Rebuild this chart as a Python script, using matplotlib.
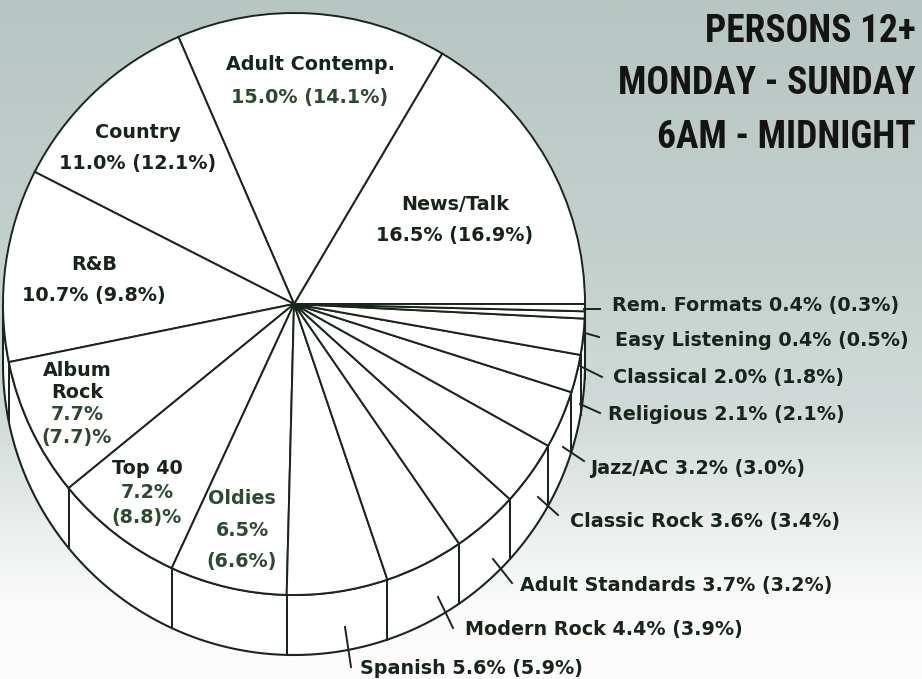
import numpy as np
import matplotlib
matplotlib.use("Agg")
import matplotlib.pyplot as plt
from matplotlib.colors import LinearSegmentedColormap

# ---------------- data ----------------
formats = ["News/Talk", "Adult Contemp.", "Country", "R&B", "Album Rock", "Top 40",
           "Oldies", "Spanish", "Modern Rock", "Adult Standards", "Classic Rock",
           "Jazz/AC", "Religious", "Classical", "Easy Listening", "Rem. Formats"]
share_now = [16.5, 15.0, 11.0, 10.7, 7.7, 7.2, 6.5, 5.6, 4.4, 3.7, 3.6, 3.2, 2.1, 2.0, 0.4, 0.4]
share_prev = [16.9, 14.1, 12.1, 9.8, 7.7, 8.8, 6.6, 5.9, 3.9, 3.2, 3.4, 3.0, 2.1, 1.8, 0.5, 0.3]
title_lines = ["PERSONS 12+", "MONDAY - SUNDAY", "6AM - MIDNIGHT"]

# ---------------- layout (pixel coordinates, y measured from top) ----------------
W, H = 922, 679
CX, CY_PX, R, DEPTH = 294, 304, 291, 60
LINE = "#1a261c"
TXT = "#172419"
GREEN = "#2d4a31"
FS = 13.8

def Y(ypx):
    return H - ypx

# inside labels: name -> (center x, [y of each line], lines spec)
inside = {
    "News/Talk":      (455, [204, 236], "one"),
    "Adult Contemp.": (310, [65, 97], "one"),
    "Country":        (138, [133, 164], "one"),
    "R&B":            (94, [264, 296], "one"),
    "Album Rock":     (77, [371, 393, 415, 438], "split"),
    "Top 40":         (147, [468, 493, 517], "stack"),
    "Oldies":         (242, [498, 530, 562], "stack2"),
}
# outside labels: name -> (left x, center y, leader segment)
outside = {
    "Rem. Formats":    (612, 305, ((584, 309), (600, 309))),
    "Easy Listening":  (615, 340, ((585, 333), (599, 337))),
    "Classical":       (613, 377, ((580, 366), (602, 377))),
    "Religious":       (608, 415, ((580, 404), (600, 413))),
    "Jazz/AC":         (590, 468, ((563, 447), (584, 461))),
    "Classic Rock":    (570, 521, ((538, 497), (558, 515))),
    "Adult Standards": (520, 585, ((493, 559), (512, 583))),
    "Modern Rock":     (465, 629, ((438, 597), (453, 628))),
    "Spanish":         (360, 669, ((345, 627), (351, 667))),
}

fig = plt.figure(figsize=(9.22, 6.79), dpi=100)
ax = fig.add_axes([0, 0, 1, 1])

# background gradient
cmap = LinearSegmentedColormap.from_list(
    "bg", [(0.0, "#b8c6c3"), (0.35, "#c3cfcc"), (0.62, "#d2dbd9"),
           (0.8, "#eef1f0"), (0.9, "#fbfbfb"), (1.0, "#fdfdfd")])
grad = np.linspace(0, 1, 400).reshape(-1, 1)
ax.imshow(grad, cmap=cmap, extent=(0, W, 0, H), origin="upper", aspect="auto", zorder=0)

cx, cy = CX, Y(CY_PX)

# side wall of the 3D pie
th = np.radians(np.linspace(180, 360, 300))
xt = cx + R * np.cos(th)
yt = cy + R * np.sin(th)
wall_x = np.concatenate([xt, xt[::-1]])
wall_y = np.concatenate([yt, (yt - DEPTH)[::-1]])
ax.fill(wall_x, wall_y, facecolor="white", edgecolor=LINE, lw=1.5, zorder=1)

# top face
wedges, _ = ax.pie(share_now, startangle=0, counterclock=True, center=(cx, cy), radius=R,
                   wedgeprops=dict(facecolor="white", edgecolor=LINE, linewidth=1.4))
for w in wedges:
    w.set_zorder(2)

# vertical edges on the wall at slice boundaries
for w in wedges:
    for a in (w.theta1, w.theta2):
        a = a % 360
        if 180 < a < 360:
            x0 = cx + R * np.cos(np.radians(a))
            y0 = cy + R * np.sin(np.radians(a))
            ax.plot([x0, x0], [y0, y0 - DEPTH], color=LINE, lw=1.4, zorder=1.5)

# inside labels
for name, (x, ys, kind) in inside.items():
    i = formats.index(name)
    now, prev = share_now[i], share_prev[i]
    if kind == "one":
        lines = [(name, TXT), (f"{now:.1f}% ({prev:.1f}%)", GREEN if name == "Adult Contemp." else TXT)]
    elif kind == "split":
        a, b = name.split(" ")
        lines = [(a, TXT), (b, TXT), (f"{now:.1f}%", GREEN), (f"({prev:.1f})%", GREEN)]
    elif kind == "stack":
        lines = [(name, TXT), (f"{now:.1f}%", GREEN), (f"({prev:.1f})%", GREEN)]
    else:
        lines = [(name, GREEN), (f"{now:.1f}%", GREEN), (f"({prev:.1f}%)", GREEN)]
    for (s, c), yy in zip(lines, ys):
        ax.text(x, Y(yy), s, ha="center", va="center", fontsize=FS, fontweight="bold",
                color=c, family="DejaVu Sans", zorder=5)

# outside labels with leader ticks
for name, (x, yy, seg) in outside.items():
    i = formats.index(name)
    ax.text(x, Y(yy), f"{name} {share_now[i]:.1f}% ({share_prev[i]:.1f}%)", ha="left",
            va="center", fontsize=FS, fontweight="bold", color=TXT, family="DejaVu Sans", zorder=5)
    (x1, y1), (x2, y2) = seg
    ax.plot([x1, x2], [Y(y1), Y(y2)], color=LINE, lw=1.4, zorder=4)

# title
for s, yy in zip(title_lines, [31, 84, 137]):
    ax.text(916, Y(yy), s, ha="right", va="center", fontsize=27, fontweight="bold",
            fontstretch="condensed", color="#141414",
            family=["Roboto Condensed", "Liberation Sans Narrow", "DejaVu Sans"], zorder=5)

ax.set_xlim(0, W)
ax.set_ylim(0, H)
ax.set_aspect("equal")
ax.axis("off")
fig.savefig("out.png", dpi=100)
